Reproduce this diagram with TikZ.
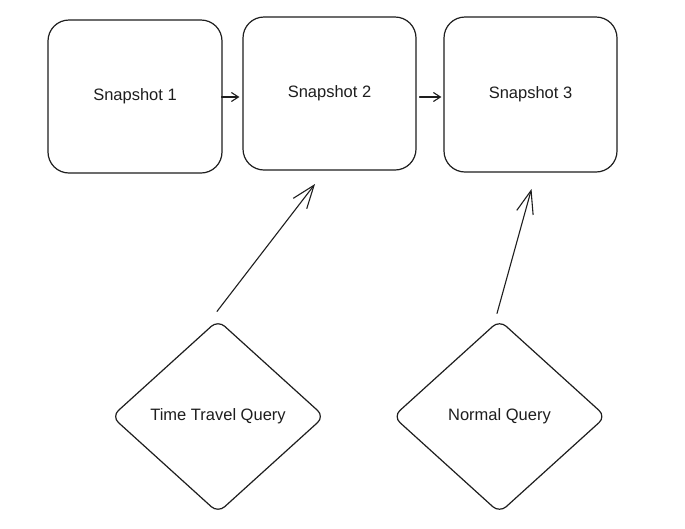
\documentclass[tikz,border=0pt]{standalone}
\usepackage{fontspec}
\setmainfont{Liberation Sans}
\usetikzlibrary{arrows.meta,shapes.geometric,calc}
\definecolor{ink}{HTML}{1E1E1E}
\begin{document}
\begin{tikzpicture}[x=1pt,y=-1pt,
  every node/.style={font=\fontsize{16.5}{19}\selectfont, text=ink},
  snapbox/.style={draw=ink, line width=1.2pt, rounded corners=21pt, inner sep=0pt},
  querydia/.style={draw=ink, line width=1.2pt, diamond, aspect=1.1, rounded corners=9pt, inner sep=0pt, minimum width=213pt, minimum height=193pt},
  bigarrow/.style={draw=ink, line width=1.1pt, line cap=round, -{Straight Barb[length=23pt,width=17pt,line width=1.1pt]}},
  smallarrow/.style={draw=ink, line width=1.1pt, line cap=round, -{Straight Barb[length=7pt,width=9pt,line width=1.1pt]}}
]
\useasboundingbox (0,0) rectangle (685,528);
\fill[white] (0,0) rectangle (685,528);

\node[snapbox, minimum width=174pt, minimum height=153pt] (b1) at (135,96.5) {Snapshot 1};
\node[snapbox, minimum width=173pt, minimum height=153pt] (b2) at (329.5,93.5) {Snapshot 2};
\node[snapbox, minimum width=173pt, minimum height=155pt] (b3) at (530.5,94.5) {Snapshot 3};

\node[querydia] (q1) at (218,416.5) {Time Travel Query};
\node[querydia] (q2) at (499.5,416.5) {Normal Query};

\coordinate (a1) at ($(b1.east)+(-1,0.5)$);
\coordinate (a2) at ($(b2.east)+(3,3.5)$);

\draw[smallarrow] (a1) -- ($(a1 -| b2.west)+(-3,0)$);
\draw[smallarrow] (a2) -- ($(a2 -| b3.west)+(-2,0)$);

\coordinate (s1) at ($(q1.north)+(-1,-8)$);
\coordinate (t1) at (315,184);
\coordinate (s2) at ($(q2.north)+(-2.5,-6)$);
\coordinate (t2) at (531.5,189);

\draw[bigarrow] (s1) -- (t1);
\draw[bigarrow] (s2) -- (t2);
\end{tikzpicture}
\end{document}
